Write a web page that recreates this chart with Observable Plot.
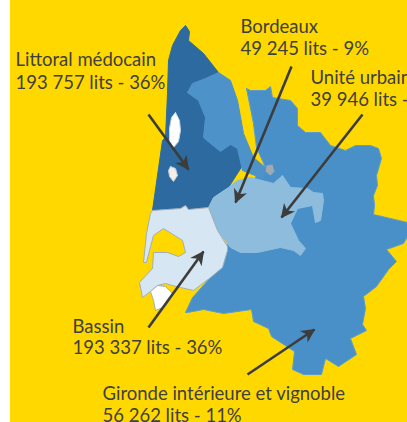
<!DOCTYPE html>
<html lang="fr">
<head>
<meta charset="utf-8">
<style>html,body{margin:0;padding:0;background:#fff;overflow:hidden}svg{display:block}g[aria-label="line"]{filter:blur(.6px)}</style>
<script src="https://cdn.jsdelivr.net/npm/d3@7"></script>
<script src="https://cdn.jsdelivr.net/npm/@observablehq/plot@0.6"></script>
</head>
<body>
<div id="chart"></div>
<script>
const background = [{x1: 10, x2: 407, y1: 0, y2: 422}];

const medocOuter = [[185,25],[189,31],[188,40],[203,53],[218,72],[205,78],[192,83],[187,92],[198,100],[205,117],[203,137],[210,143],[220,151],[230,144],[237,148],[242,165],[228,187],[213,197],[208,207],[188,209],[185,205],[180,208],[152,210],[162,140],[165,137],[167,93],[168,60],[172,45],[180,30]];
const medocEast = [[187,92],[192,83],[205,78],[218,72],[230,80],[237,100],[243,133],[253,157],[265,167],[262,178],[242,170],[237,148],[230,144],[220,151],[210,143],[203,137],[205,117],[198,100]];
const gironde = [[246,88],[250,90],[265,90],[270,86],[272,97],[290,100],[297,108],[297,125],[305,132],[320,132],[330,145],[345,150],[355,145],[370,145],[378,148],[381,158],[376,175],[377,185],[373,195],[374,205],[373,214],[390,218],[407,222],[407,236],[403,243],[386,249],[396,261],[388,269],[376,286],[363,296],[365,308],[362,324],[366,330],[350,338],[356,354],[338,366],[325,358],[321,374],[303,374],[292,369],[294,351],[271,336],[268,328],[253,321],[251,309],[223,313],[203,309],[187,312],[185,312],[192,297],[210,277],[222,260],[240,200],[258,172],[265,167],[256,147],[253,123]];
const urbain = [[208,207],[213,197],[228,187],[237,180],[250,177],[273,183],[282,175],[290,187],[307,188],[313,192],[322,193],[323,200],[320,220],[315,222],[312,205],[297,208],[290,223],[298,240],[305,248],[300,255],[293,250],[280,247],[257,252],[240,252],[230,247],[217,230]];
const bassin = [[152,210],[180,208],[185,205],[188,209],[208,207],[217,230],[227,246],[227,250],[222,267],[210,277],[193,290],[180,287],[172,285],[165,283],[157,285],[150,291],[142,297],[139,282],[152,268],[153,252],[167,252],[178,256],[185,252],[182,240],[163,228],[153,235],[146,262],[143,262],[146,233],[150,213]];
const bassinWhite = [[150,291],[157,285],[165,286],[172,293],[165,306],[155,310],[153,300]];
const estuaryEnd = [[266,165],[272,164],[274,171],[270,175],[265,171]];
const lakeNorth = [[175,112],[179,120],[180,130],[178,141],[173,147],[169,141],[169,128],[171,117]];
const lakeSouth = [[170,166],[175,168],[177,175],[173,181],[169,176],[168,170]];

const regions = [
  {points: medocOuter, fill: "#2c6a9f", stroke: "#2c6a9f"},
  {points: gironde, fill: "#4a90c8", stroke: "#5b9ccb"},
  {points: medocEast, fill: "#4d92c9", stroke: "#4d92c9"},
  {points: estuaryEnd, fill: "#9fa9ae", stroke: "none"},
  {points: urbain, fill: "#8ebcdd", stroke: "#8ebcdd"},
  {points: bassin, fill: "#d7e6f3", stroke: "#a3adb6"},
  {points: bassinWhite, fill: "#ffffff", stroke: "#a3adb6"},
  {points: lakeNorth, fill: "#ffffff", stroke: "#c4d6e4"},
  {points: lakeSouth, fill: "#f4ece6", stroke: "#b9cbdb"}
];

const arrowStartX = [148, 291, 362, 148, 247];
const arrowStartY = [114, 66, 114, 327, 374];
const arrowEndX = [188, 235, 281, 203, 314];
const arrowEndY = [169, 202, 217, 251, 329];

const labelLines = [
  "Littoral médocain", "193 757 lits - 36%",
  "Bordeaux", "49 245 lits - 9%",
  "Unité urbaine", "39 946 lits - 8%",
  "Bassin", "193 337 lits - 36%",
  "Gironde intérieure et vignoble", "56 262 lits - 11%"
];
const labelX = [15, 15, 240, 240, 310, 310, 72, 72, 102, 102];
const labelY = [65, 88, 32, 54, 83, 105, 332, 353, 399, 421];

const ink = "#3c3c3c";
const barbedHead = (color, context) => {
  const ns = "http://www.w3.org/2000/svg";
  const m = context.document.createElementNS(ns, "marker");
  m.setAttribute("viewBox", "-14 -8 16 16");
  m.setAttribute("markerUnits", "userSpaceOnUse");
  m.setAttribute("markerWidth", 16);
  m.setAttribute("markerHeight", 16);
  m.setAttribute("orient", "auto");
  const p = context.document.createElementNS(ns, "path");
  p.setAttribute("d", "M1,0L-13,-7L-9,0L-13,7Z");
  p.setAttribute("fill", color);
  p.setAttribute("stroke", "none");
  m.appendChild(p);
  return m;
};

const arrows = arrowStartX.map((_, i) => i);
const labels = labelLines.map((_, i) => i);

const plot = Plot.plot({
  width: 407,
  height: 422,
  margin: 0,
  style: {background: "#fff", overflow: "hidden"},
  x: {domain: [0, 407], range: [0, 407], axis: null},
  y: {domain: [0, 422], range: [0, 422], axis: null},
  marks: [
    Plot.rect(background, {x1: "x1", x2: "x2", y1: "y1", y2: "y2", fill: "#ffd800"}),
    ...regions.map(r => Plot.line(r.points.concat([r.points[0]]), {
      x: d => d[0], y: d => d[1], fill: r.fill, stroke: r.stroke, strokeWidth: 1, strokeLinejoin: "round"
    })),
    Plot.link(arrows, {
      x1: i => arrowStartX[i], y1: i => arrowStartY[i],
      x2: i => arrowEndX[i], y2: i => arrowEndY[i],
      stroke: ink, strokeWidth: 2.6, markerEnd: barbedHead
    }),
    Plot.text(labels, {
      x: i => labelX[i], y: i => labelY[i], text: i => labelLines[i],
      textAnchor: "start", lineAnchor: "bottom",
      fontFamily: "Lato", fontSize: 18.5, fill: "#404040"
    })
  ]
});
document.getElementById("chart").appendChild(plot);
</script>
</body>
</html>
